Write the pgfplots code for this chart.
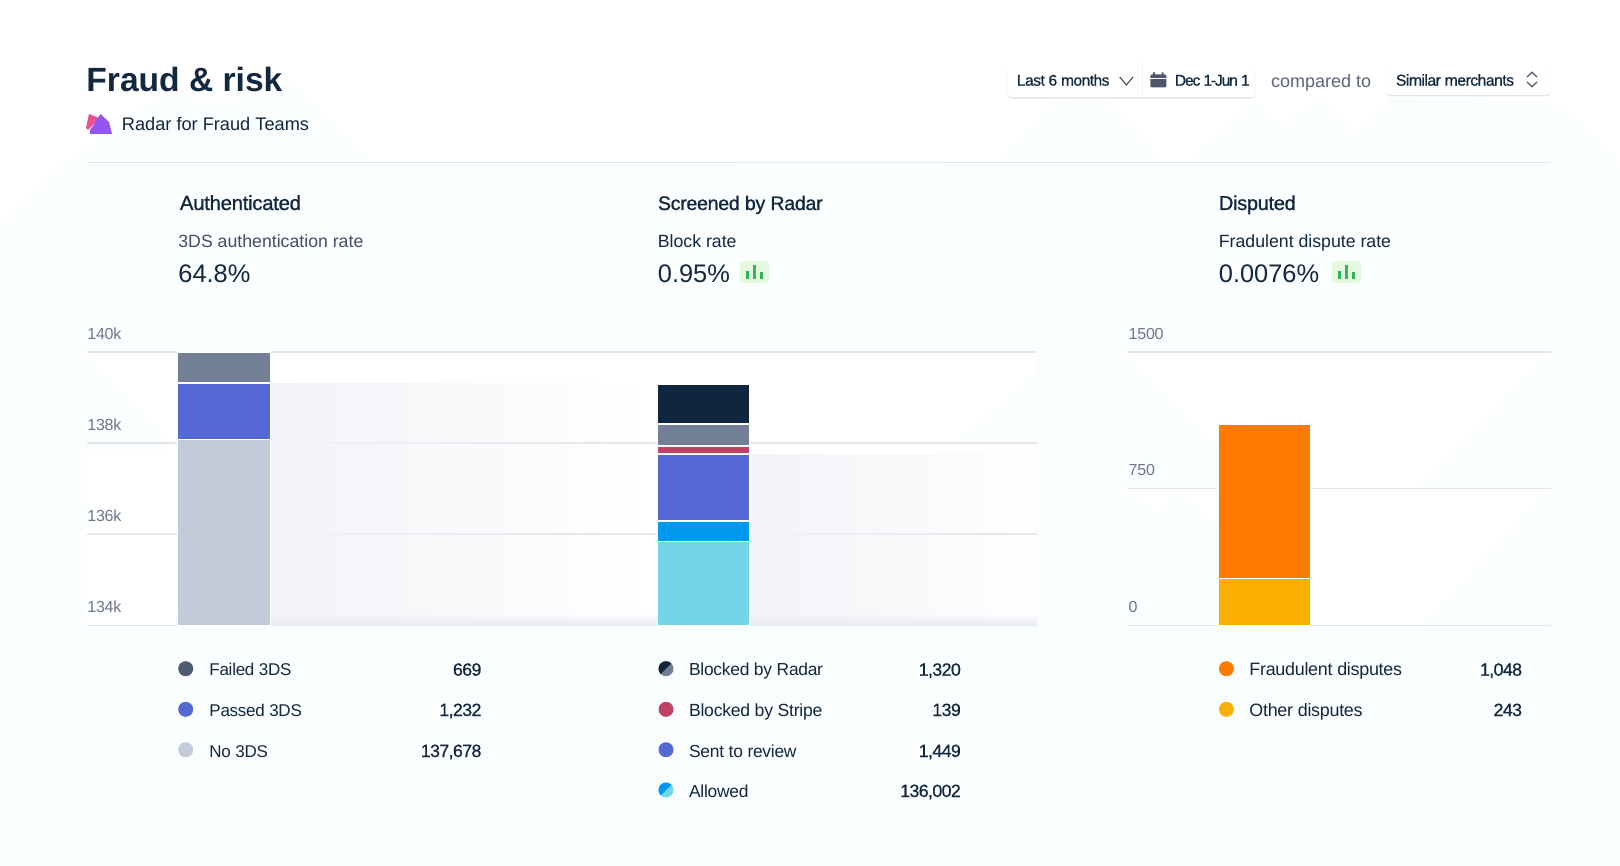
\documentclass[border=0pt]{standalone}
\usepackage{pgfplots}
\pgfplotsset{compat=1.18}
\usepackage{fontspec}
\usetikzlibrary{fadings}
\setmainfont{Liberation Sans}
\newfontfamily\fmed[FakeBold=0.7,LetterSpace=-3.5]{Liberation Sans}
\newfontfamily\ftight[FakeBold=0.7,LetterSpace=-7.5]{Liberation Sans}
\newfontfamily\fhead[FakeBold=1,LetterSpace=-1.5]{Liberation Sans}
\newfontfamily\freg[LetterSpace=-1.5]{Liberation Sans}
\newcommand\sz[1]{\fontsize{#1}{#1}\selectfont}

\definecolor{ink}{HTML}{12283F}
\definecolor{inksoft}{HTML}{414F66}
\definecolor{tick}{HTML}{6B778A}
\definecolor{gridc}{HTML}{E4E6EC}
\definecolor{pale}{HTML}{FBFEFF}
\definecolor{slategray}{HTML}{737F94}
\definecolor{faileddot}{HTML}{4F5B70}
\definecolor{indigo}{HTML}{5469D4}
\definecolor{nods}{HTML}{C3CAD8}
\definecolor{navy}{HTML}{10263E}
\definecolor{rose}{HTML}{C04264}
\definecolor{azure}{HTML}{0098EE}
\definecolor{sky}{HTML}{75D5E8}
\definecolor{orange}{HTML}{FF7A00}
\definecolor{amber}{HTML}{FBB000}
\definecolor{shade}{HTML}{F3F4F8}
\definecolor{iconc}{HTML}{4F566B}
\definecolor{pinkicon}{HTML}{E8508F}
\definecolor{violeticon}{HTML}{9456F0}
\definecolor{badgebg}{HTML}{E4F8E0}
\definecolor{badgebar}{HTML}{2FB45A}

\tikzfading[name=faderight, left color=transparent!0, right color=transparent!100]
\tikzfading[name=fadeup, bottom color=transparent!0, top color=transparent!100]

% x, y in reference pixels; text helpers
\newcommand\lab[4]{\node[anchor=base west,inner sep=0pt,text=#3,font=#4] at (#1) {#2};}
\newcommand\rlab[4]{\node[anchor=base east,inner sep=0pt,text=#3,font=#4] at (#1) {#2};}
\newcommand\legdot[3]{\fill[#3] (#1,#2) circle (3.75pt);}
\newcommand\splitdot[4]{\fill[#4] (#1,#2) circle (3.75pt);
  \begin{scope}\clip (#1,#2) circle (3.75pt);
  \fill[#3] (#1-9,#2+9) -- (#1+9,#2-9) -- (#1-9,#2-9) -- cycle;\end{scope}}
\newcommand\badge[1]{\fill[badgebg,rounded corners=2pt] (#1,261) rectangle +(29.5,22);
  \fill[badgebar] (#1+5.5,270.7) rectangle (#1+8.5,279.3);
  \fill[badgebar] (#1+13,265) rectangle (#1+16,279.3);
  \fill[badgebar] (#1+20,271.7) rectangle (#1+23,279.3);}

\pgfplotsset{panel/.style={
  scale only axis, anchor=south west, ybar, bar shift=0pt, scaled y ticks=false,
  axis line style={draw=none}, major tick length=0pt,
  xtick=\empty, ymajorgrids, grid style={gridc,line width=.75pt},
  yticklabel style={anchor=base west,inner sep=0pt,text=tick,yshift=6.4pt,xshift=0pt,font=\freg\sz{8}},
  every axis plot/.append style={draw=white,line width=.75pt,bar width=46.45pt},
  clip=false}}

\begin{document}
\begin{tikzpicture}[x=0.5pt,y=-0.5pt]
\path[use as bounding box] (0,0) rectangle (1620,866);
\fill[white] (0,0) rectangle (1620,866);
% pale backdrop
\fill[pale] (0,228) -- (60,167) -- (160,98) -- (227,100) -- (260,98) -- (293,82) -- (370,163)
  -- (999,160) -- (1056,100) -- (1106,100) -- (1164,162) -- (1189,162) -- (1255,102) -- (1282,128)
  -- (1317,98) -- (1355,135) -- (1393,98) -- (1550,100) -- (1580,123) -- (1620,165) -- (1620,866) -- (0,866) -- cycle;
\fill[white] (87,352) -- (1037,352) -- (1037,373) -- (957,443) -- (1037,443) -- (1037,625)
  -- (87,625) -- (87,450) -- (170,450) -- (170,443) -- (87,360) -- cycle;
\fill[white] (1128,352) -- (1551,352) -- (1420,488) -- (1551,488) -- (1423,625) -- (1218,625)
  -- (1218,530) -- (1178,493) -- (1155,515) -- (1128,493) -- (1128,488) -- (1217,488) -- (1217,447) -- (1128,357) -- cycle;

% header
\lab{86,92}{Fraud \& risk}{ink}{\bfseries\sz{16.8}}
\fill[pinkicon] (89,114) -- (99,118) -- (88,130) -- (86,128) -- cycle;
\fill[violeticon] (90,130) -- (100.5,114) -- (109,122) -- (112,134) -- (90,134) -- cycle;
\lab{121.5,130.7}{Radar for Fraud Teams}{ink}{\sz{9.1}}
\draw[gridc,line width=.75pt] (87,162.3) -- (1550,162.3);

% selectors
\fill[gridc,rounded corners=2pt] (1007.6,63.2) rectangle (1255.5,98.8);
\fill[white,rounded corners=2pt] (1007.6,61.7) rectangle (1255.5,97.3);
\draw[gridc!60!white,line width=.4pt] (1142,61.7) -- (1142,97.3);
\lab{1016.5,85.7}{Last 6 months}{ink}{\fmed\sz{7.8}}
\draw[iconc,line width=.6pt] (1119.7,77) -- (1126.4,85) -- (1133,77);
\fill[iconc,rounded corners=.6pt] (1150.3,74.5) rectangle (1166.4,87.3);
\fill[iconc] (1153,72.3) rectangle (1155,75) (1161.5,72.3) rectangle (1163.5,75);
\draw[white,line width=.4pt] (1150.3,78.5) -- (1166.4,78.5);
\lab{1174.5,85.7}{Dec 1-Jun 1}{ink}{\ftight\sz{7.8}}
\lab{1270.8,87.7}{compared to}{tick!85!black}{\sz{9}}
\fill[gridc,rounded corners=2pt] (1386.8,65.8) rectangle (1550.2,96.5);
\fill[white,rounded corners=2pt] (1386.8,64.3) rectangle (1550.2,95);
\lab{1395.5,85.7}{Similar merchants}{ink}{\fmed\sz{7.9}}
\draw[iconc,line width=.6pt] (1527,77) -- (1532,72.3) -- (1537,77) (1527,82) -- (1532,86.7) -- (1537,82);

% column heads
\lab{179.5,210}{Authenticated}{ink}{\fhead\sz{10.2}}
\lab{178,247.5}{3DS authentication rate}{inksoft}{\sz{8.85}}
\lab{178,282.5}{64.8\%}{ink}{\sz{12.7}}
\lab{657.5,210}{Screened by Radar}{ink}{\fhead\sz{9.8}}
\lab{657.5,247.5}{Block rate}{ink}{\sz{8.85}}
\lab{657.5,282.5}{0.95\%}{ink}{\sz{12.7}}
\badge{740}
\lab{1218.5,210}{Disputed}{ink}{\fhead\sz{10}}
\lab{1218.5,247.5}{Fradulent dispute rate}{ink}{\sz{8.85}}
\lab{1218.5,282.5}{0.0076\%}{ink}{\sz{12.7}}
\badge{1332}

% left chart: bars drawn tallest first, values are segment tops
\begin{axis}[panel, at={(43.5pt,-312.65pt)}, width=474.95pt, height=136.65pt,
  xmin=-0.2856, xmax=1.6944, ymin=134000, ymax=140000,
  ytick={134000,136000,138000,140000}, yticklabels={134k,136k,138k,140k}]
% trailing shades
\addplot[sharp plot,fill=shade,draw=none,path fading=faderight,fit fading=true,forget plot] coordinates {(0.095,134000)(0.095,139320)(0.86,139320)(0.86,134000)} --cycle;
\addplot[sharp plot,fill=shade,draw=none,path fading=faderight,fit fading=true,forget plot] coordinates {(1.095,134000)(1.095,137765)(1.694,137765)(1.694,134000)} --cycle;
\addplot[sharp plot,fill=gridc!80!white,draw=none,path fading=fadeup,fit fading=true,forget plot] coordinates {(-0.1,134000)(-0.1,134260)(1.6944,134260)(1.6944,134000)} --cycle;
% Authenticated
\addplot[fill=slategray] coordinates {(0,140000)};
\addplot[fill=indigo] coordinates {(0,139321)};
\addplot[fill=nods] coordinates {(0,138075)};
% Screened by Radar
\addplot[fill=navy] coordinates {(1,139282)};
\addplot[fill=slategray] coordinates {(1,138425)};
\addplot[fill=rose] coordinates {(1,137937)};
\addplot[fill=indigo] coordinates {(1,137765)};
\addplot[fill=azure] coordinates {(1,136288)};
\addplot[fill=sky] coordinates {(1,135838)};
\end{axis}

% right chart
\begin{axis}[panel, at={(564.15pt,-312.65pt)}, width=211.35pt, height=136.65pt,
  xmin=-1.3605, xmax=2.8665, ymin=0, ymax=1500,
  ytick={0,750,1500}, yticklabels={0,750,1500}]
\addplot[fill=orange] coordinates {(0,1105)};
\addplot[fill=amber] coordinates {(0,256)};
\end{axis}

% legends
\legdot{185.7}{668.7}{faileddot}\lab{209,675.7}{Failed 3DS}{ink}{\freg\sz{8.5}}\rlab{481.8,675.7}{669}{ink}{\fmed\sz{8.9}}
\legdot{185.7}{709.3}{indigo}\lab{209,716}{Passed 3DS}{ink}{\freg\sz{8.5}}\rlab{481.8,716}{1,232}{ink}{\fmed\sz{8.9}}
\legdot{185.7}{749.7}{nods}\lab{209,757}{No 3DS}{ink}{\freg\sz{8.5}}\rlab{481.8,757}{137,678}{ink}{\fmed\sz{8.9}}

\splitdot{666}{668.7}{navy}{slategray}\lab{688.7,675.7}{Blocked by Radar}{ink}{\freg\sz{8.7}}\rlab{961.2,675.7}{1,320}{ink}{\fmed\sz{8.9}}
\legdot{666}{709.3}{rose}\lab{688.7,716}{Blocked by Stripe}{ink}{\freg\sz{8.8}}\rlab{961.2,716}{139}{ink}{\fmed\sz{8.9}}
\legdot{666}{749.7}{indigo}\lab{688.7,757}{Sent to review}{ink}{\freg\sz{8.7}}\rlab{961.2,757}{1,449}{ink}{\fmed\sz{8.9}}
\splitdot{666}{790}{azure}{sky}\lab{688.7,797}{Allowed}{ink}{\freg\sz{8.7}}\rlab{961.2,797}{136,002}{ink}{\fmed\sz{8.9}}

\legdot{1226.4}{668.7}{orange}\lab{1249,675.7}{Fraudulent disputes}{ink}{\freg\sz{8.95}}\rlab{1522.4,675.7}{1,048}{ink}{\fmed\sz{8.9}}
\legdot{1226.4}{709.3}{amber}\lab{1249,716}{Other disputes}{ink}{\freg\sz{8.95}}\rlab{1522.4,716}{243}{ink}{\fmed\sz{8.9}}
\end{tikzpicture}
\end{document}
